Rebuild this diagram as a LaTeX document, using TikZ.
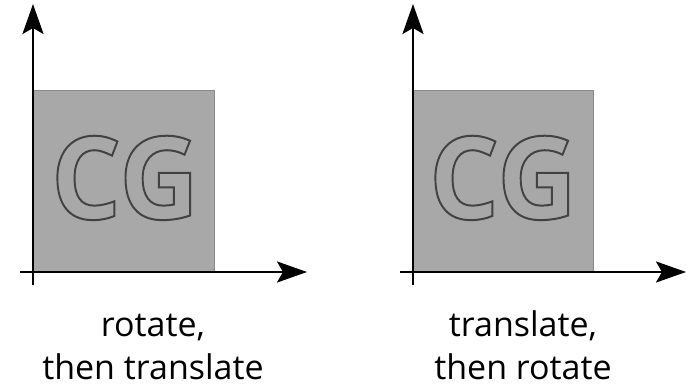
\documentclass[tikz,border=0pt]{standalone}
\usepackage{fontspec}
\setmainfont{Open Sans}
\usetikzlibrary{arrows.meta}

\definecolor{panelgray}{HTML}{A8A8A8}
\definecolor{edgegray}{HTML}{8A8A8A}

\tikzstyle{square}=[fill=panelgray, draw=edgegray, line width=0.8pt]
\tikzstyle{axis}=[draw, line width=2.5pt, -{Stealth[length=30pt, width=21pt, inset=6pt]}]
\tikzstyle{cgmark}=[inner sep=0pt, anchor=base, xscale=0.96, transform shape,
  font=\fontsize{115}{115}\selectfont\bfseries]
\tikzstyle{words}=[inner sep=0pt, anchor=base, align=center,
  font=\fontsize{34}{43}\selectfont]
% stroked, unfilled glyphs
\newcommand{\hollow}[1]{\special{pdf:literal direct 1 Tr 2 w 0.26 0.26 0.26 RG}#1%
  \special{pdf:literal direct 0 Tr}}
\newcommand{\cgmark}{\node[cgmark]}
\newcommand{\words}{\node[words]}

\begin{document}
\begin{tikzpicture}[x=1pt, y=1pt]
\useasboundingbox (0,0) rectangle (686,386);

% rotate first
\draw[square] (33,115) rectangle (214,296);
\cgmark (cgl) at (125,167) {\hollow{CG}};
\coordinate (lxa) at (20,114);
\coordinate (lxb) at (307,114);
\coordinate (lya) at (33,101);
\coordinate (lyb) at (33,382);
\words (capl) at (153,7) {rotate,\\then translate};

% translate first
\draw[square] (413,115) rectangle (593,296);
\cgmark (cgr) at (503,167) {\hollow{CG}};
\coordinate (rxa) at (400,114);
\coordinate (rxb) at (686,114);
\coordinate (rya) at (413,101);
\coordinate (ryb) at (413,382);
\words (capr) at (523,7) {translate,\\then rotate};

\path
(lxa) edge[axis] (lxb)
(lya) edge[axis] (lyb)
(rxa) edge[axis] (rxb)
(rya) edge[axis] (ryb)
;
\end{tikzpicture}
\end{document}
